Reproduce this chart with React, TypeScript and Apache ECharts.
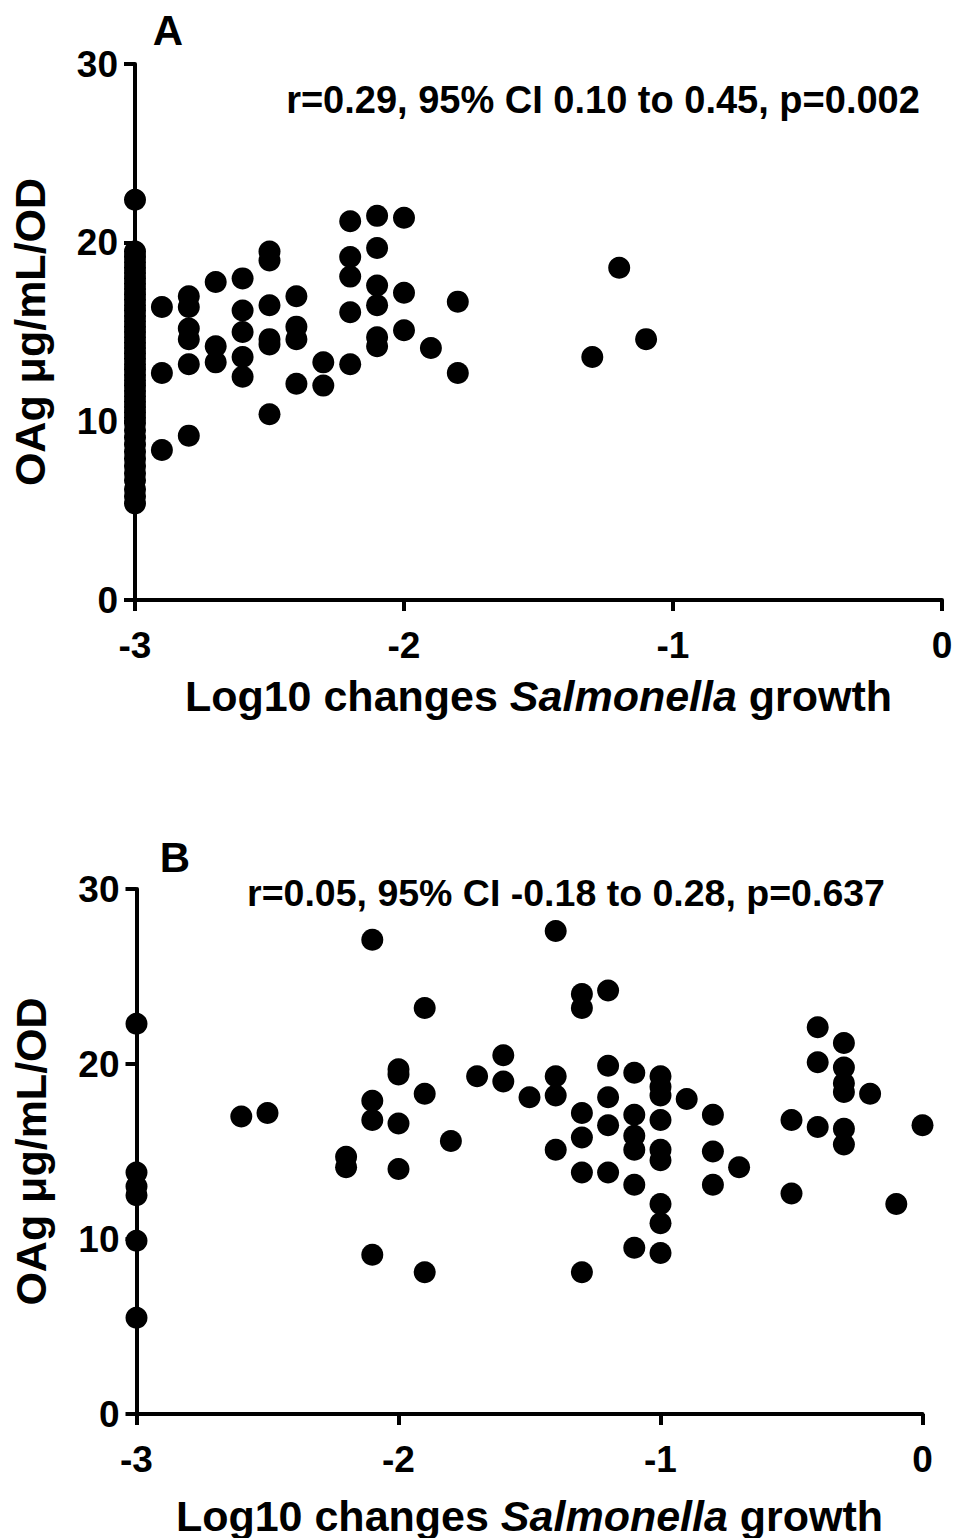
import React, { useEffect, useRef } from "react";
import * as echarts from "echarts";

// Panel A: x positions (log10 change) and the OAg values read at each x
const aX = [-3, -2.9, -2.8, -2.7, -2.6, -2.5, -2.4, -2.3, -2.2, -2.1, -2.0, -1.9, -1.8, -1.3, -1.2, -1.1];
const aY = [
  [22.4, 19.5, 19.2, 18.9, 18.6, 18.3, 18.0, 17.7, 17.4, 17.1, 16.8, 16.5, 16.2, 15.9, 15.6, 15.3, 15.0, 14.7, 14.4, 14.1, 13.8, 13.5, 13.2, 12.9, 12.6, 12.3, 12.0, 11.7, 11.4, 11.1, 10.8, 10.5, 10.2, 9.9, 9.5, 9.1, 8.7, 8.3, 7.9, 7.5, 7.1, 6.7, 6.2, 5.8, 5.4],
  [16.4, 12.7, 8.4],
  [17.0, 16.4, 15.2, 14.6, 13.2, 9.2],
  [17.8, 14.2, 13.3],
  [18.0, 16.2, 15.0, 13.6, 12.5],
  [19.5, 19.0, 16.5, 14.6, 14.3, 10.4],
  [17.0, 15.3, 14.6, 12.1],
  [13.3, 12.0],
  [21.2, 19.2, 18.1, 16.1, 13.2],
  [21.5, 19.7, 17.6, 16.5, 14.7, 14.2],
  [21.4, 17.2, 15.1],
  [14.1],
  [16.7, 12.7],
  [13.6],
  [18.6],
  [14.6],
];

// Panel B
const bX = [-3, -2.6, -2.5, -2.2, -2.1, -2.0, -1.9, -1.8, -1.7, -1.6, -1.5, -1.4, -1.3, -1.2, -1.1, -1.0, -0.9, -0.8, -0.7, -0.5, -0.4, -0.3, -0.2, -0.1, 0.0];
const bY = [
  [22.3, 13.8, 13.0, 12.5, 9.9, 5.5],
  [17.0],
  [17.2],
  [14.7, 14.1],
  [27.1, 17.9, 16.8, 9.1],
  [19.7, 19.4, 16.6, 14.0],
  [23.2, 18.3, 8.1],
  [15.6],
  [19.3],
  [20.5, 19.0],
  [18.1],
  [27.6, 19.3, 18.2, 15.1],
  [24.0, 23.2, 17.2, 15.8, 13.8, 8.1],
  [24.2, 19.9, 18.1, 16.5, 13.8],
  [19.5, 17.1, 15.9, 15.1, 13.1, 9.5],
  [19.3, 18.7, 18.2, 16.8, 15.1, 14.5, 12.0, 10.9, 9.2],
  [18.0],
  [17.1, 15.0, 13.1],
  [14.1],
  [16.8, 12.6],
  [22.1, 20.1, 16.4],
  [21.2, 19.8, 18.9, 18.4, 16.3, 15.4],
  [18.3],
  [12.0],
  [16.5],
];

const panelLabels = ["A", "B"];
const statTexts = [
  "r=0.29, 95% CI 0.10 to 0.45, p=0.002",
  "r=0.05, 95% CI -0.18 to 0.28, p=0.637",
];
const yTitle = "OAg \u03bcg/mL/OD";

const FONT = "'Liberation Sans', Arial, sans-serif";

function pairs(xs: number[], ys: number[][]) {
  const out: number[][] = [];
  xs.forEach((x, i) => ys[i].forEach((y) => out.push([x, y])));
  return out;
}

export default function App() {
  const ref = useRef<HTMLDivElement>(null);
  useEffect(() => {
    document.body.style.margin = "0";
    if (!ref.current) return;
    const chart = echarts.init(ref.current, undefined, { renderer: "svg" });
    const axisLine = { show: true, onZero: false, lineStyle: { color: "#000", width: 4 } };
    const axisTick = { show: true, length: 11, lineStyle: { color: "#000", width: 4 } };
    const xAxisBase = (gridIndex: number, gap: number) => ({
      type: "value",
      gridIndex,
      min: -3,
      max: 0,
      interval: 1,
      axisLine,
      axisTick,
      splitLine: { show: false },
      axisLabel: { color: "#000", fontFamily: FONT, fontWeight: "bold", fontSize: 37, margin: 27 },
      name: "{n|Log10 changes }{i|Salmonella}{n| growth}",
      nameLocation: "middle",
      nameGap: gap,
      nameTextStyle: {
        rich: {
          n: { fontFamily: FONT, fontWeight: "bold", fontSize: 43, color: "#000" },
          i: { fontFamily: FONT, fontWeight: "bold", fontStyle: "italic", fontSize: 43, color: "#000" },
        },
      },
    });
    const yAxisBase = (gridIndex: number) => ({
      type: "value",
      gridIndex,
      min: 0,
      max: 30,
      interval: 10,
      axisLine,
      axisTick,
      splitLine: { show: false },
      axisLabel: { color: "#000", fontFamily: FONT, fontWeight: "bold", fontSize: 37, margin: 17 },
      name: yTitle,
      nameLocation: "middle",
      nameGap: 84,
      nameTextStyle: { fontFamily: FONT, fontWeight: "bold", fontSize: 43, color: "#000" },
    });
    const sym = { symbol: "circle", symbolSize: 22, itemStyle: { color: "#000", opacity: 1 } };
    chart.setOption({
      animation: false,
      backgroundColor: "#fff",
      grid: [
        { left: 135, top: 64, width: 807, height: 536 },
        { left: 136.5, top: 889, width: 786, height: 525 },
      ],
      xAxis: [xAxisBase(0, 74), xAxisBase(1, 80)],
      yAxis: [yAxisBase(0), yAxisBase(1)],
      series: [
        { type: "scatter", xAxisIndex: 0, yAxisIndex: 0, data: pairs(aX, aY), ...sym },
        { type: "scatter", xAxisIndex: 1, yAxisIndex: 1, data: pairs(bX, bY), ...sym },
      ],
      graphic: [
        { type: "text", x: 168, y: 30, style: { text: panelLabels[0], font: `bold 42px ${FONT}`, fill: "#000", align: "center", verticalAlign: "middle" } },
        { type: "text", x: 175, y: 857, style: { text: panelLabels[1], font: `bold 42px ${FONT}`, fill: "#000", align: "center", verticalAlign: "middle" } },
        { type: "text", x: 603, y: 100, style: { text: statTexts[0], font: `bold 38px ${FONT}`, fill: "#000", align: "center", verticalAlign: "middle" } },
        { type: "text", x: 566, y: 893, style: { text: statTexts[1], font: `bold 37.5px ${FONT}`, fill: "#000", align: "center", verticalAlign: "middle" } },
      ],
    });
    return () => chart.dispose();
  }, []);
  return <div ref={ref} style={{ width: 963, height: 1538 }} />;
}
